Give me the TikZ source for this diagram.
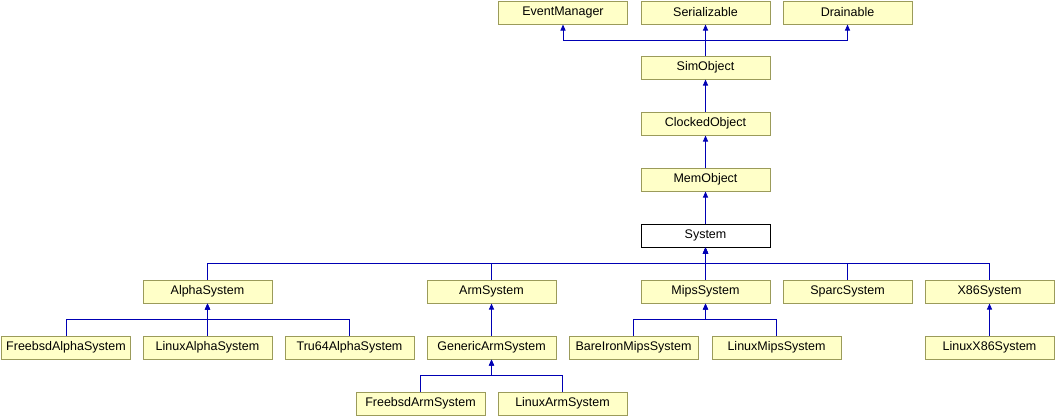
\documentclass[tikz,border=0pt]{standalone}
\usepackage{fontspec}
\setmainfont{Liberation Sans}
\usetikzlibrary{arrows.meta}
\definecolor{boxfill}{HTML}{FFFFC8}
\definecolor{boxdraw}{HTML}{9B9B5A}
\definecolor{edgecol}{HTML}{0000B4}
\begin{document}
\begin{tikzpicture}[x=1pt,y=-1pt,
  cls/.style={draw=boxdraw,fill=boxfill,line width=1pt,minimum width=129pt,minimum height=23pt,inner sep=0pt,font=\fontsize{12.5}{14}\selectfont},
  cur/.style={cls,draw=black,fill=white},
  edge/.style={color=edgecol,line width=1pt,line join=miter,-{Triangle[length=6pt,width=5pt]}}]
\useasboundingbox (0,0) rectangle (1055,416);
% row 0
\node[cls] (em) at (563,12.5) {EventManager};
\node[cls] (ser) at (705.5,12.5) {Serializable};
\node[cls] (dr) at (847.5,12.5) {Drainable};
\node[cls] (sim) at (705.5,67.5) {SimObject};
\node[cls] (clk) at (705.5,123.5) {ClockedObject};
\node[cls] (mem) at (705.5,179.5) {MemObject};
\node[cur] (sys) at (705.5,235.5) {System};
% row 2
\node[cls] (alpha) at (207.5,291.5) {AlphaSystem};
\node[cls] (arm) at (491.5,291.5) {ArmSystem};
\node[cls] (mips) at (705.5,291.5) {MipsSystem};
\node[cls] (sparc) at (847.5,291.5) {SparcSystem};
\node[cls] (x86) at (989.5,291.5) {X86System};
% row 3
\node[cls] (fba) at (66,347.5) {FreebsdAlphaSystem};
\node[cls] (lxa) at (207.5,347.5) {LinuxAlphaSystem};
\node[cls] (t64) at (349.5,347.5) {Tru64AlphaSystem};
\node[cls] (gen) at (491.5,347.5) {GenericArmSystem};
\node[cls] (bim) at (633.5,347.5) {BareIronMipsSystem};
\node[cls] (lxm) at (776.5,347.5) {LinuxMipsSystem};
\node[cls] (lx86) at (989.5,347.5) {LinuxX86System};
% row 4
\node[cls] (fbarm) at (420.5,403.5) {FreebsdArmSystem};
\node[cls] (lxarm) at (562.5,403.5) {LinuxArmSystem};
% bus coordinates
\coordinate (bSim) at (705.5,40.5);
\coordinate (bSys) at (705.5,263.5);
\coordinate (bAlpha) at (207.5,319.5);
\coordinate (bMips) at (705.5,319.5);
\coordinate (bGen) at (491.5,375.5);
% edges: straight
\draw[edge] (sim.north) -- (ser.south);
\draw[edge] (clk.north) -- (sim.south);
\draw[edge] (mem.north) -- (clk.south);
\draw[edge] (sys.north) -- (mem.south);
\draw[edge] (mips.north) -- (sys.south);
\draw[edge] (lxa.north) -- (alpha.south);
\draw[edge] (gen.north) -- (arm.south);
\draw[edge] (lx86.north) -- (x86.south);
% edges: with a bend
\draw[edge] (sim.north) -- (bSim) -| (em.south);
\draw[edge] (sim.north) -- (bSim) -| (dr.south);
\foreach \c in {alpha,arm,sparc,x86}
  \draw[edge] (\c.north) |- (bSys) -- (sys.south);
\foreach \c in {fba,t64}
  \draw[edge] (\c.north) |- (bAlpha) -- (alpha.south);
\foreach \c in {bim,lxm}
  \draw[edge] (\c.north) |- (bMips) -- (mips.south);
\foreach \c in {fbarm,lxarm}
  \draw[edge] (\c.north) |- (bGen) -- (gen.south);
\end{tikzpicture}
\end{document}
